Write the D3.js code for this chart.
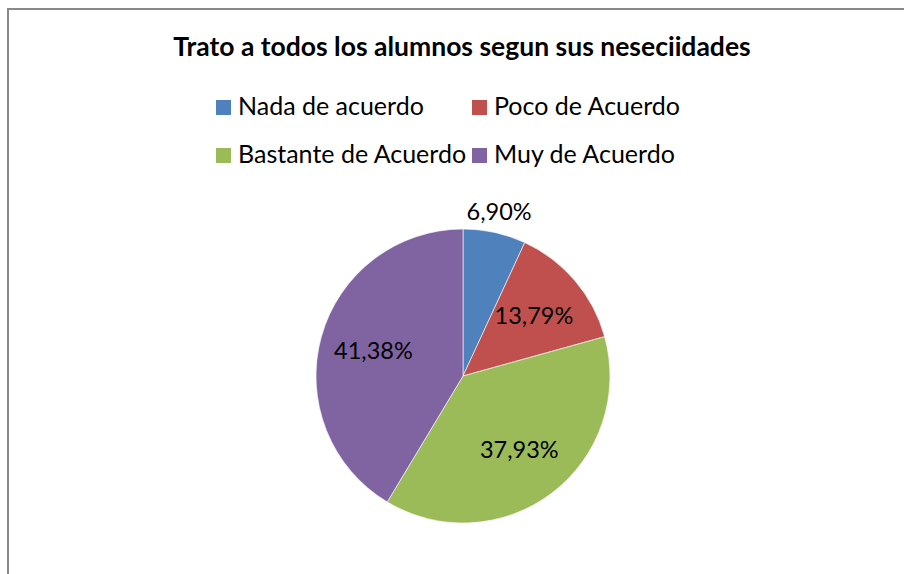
<!DOCTYPE html>
<html>
  <head>
    <meta charset="utf-8">
    <title>Trato a todos los alumnos segun sus neseciidades</title>
    <script src="https://cdn.jsdelivr.net/npm/d3@7"></script>
    <style>
        body { margin: 0; background: #fff; }
        svg { display: block; font-family: Lato, "Open Sans", sans-serif; }
    </style>
  </head>
  <body>
    <div id="viz"></div>
    <script>
        // data
        var categories = ["Nada de acuerdo", "Poco de Acuerdo", "Bastante de Acuerdo", "Muy de Acuerdo"];
        var values = [6.90, 13.79, 37.93, 41.38];
        var labels = ["6,90%", "13,79%", "37,93%", "41,38%"];
        var colors = ["#4f81bd", "#c0504d", "#9bbb59", "#8064a2"];

        var width = 904, height = 574;
        var cx = 463, cy = 376, radius = 147;

        var svg = d3.select("#viz").append("svg")
            .attr("width", width)
            .attr("height", height);

        // chart area frame (only left and top edges are in view)
        svg.append("rect")
            .attr("x", 8).attr("y", 9)
            .attr("width", 1000).attr("height", 1000)
            .style("fill", "none")
            .style("stroke", "#898989")
            .style("stroke-width", 2);

        svg.append("text")
            .attr("x", 462).attr("y", 56)
            .attr("text-anchor", "middle")
            .style("font-weight", "bold")
            .style("font-size", "26.5px")
            .text("Trato a todos los alumnos segun sus neseciidades");

        // legend, two columns
        var legend = svg.append("g").selectAll("g")
            .data(categories)
            .enter().append("g")
            .attr("transform", function(d, i) {
                return "translate(" + (216 + (i % 2) * 256) + "," + (107 + Math.floor(i / 2) * 48) + ")";
            });
        legend.append("rect")
            .attr("x", 0).attr("y", -7)
            .attr("width", 15).attr("height", 15)
            .style("fill", function(d, i) { return colors[i]; });
        legend.append("text")
            .attr("x", 22).attr("y", 8)
            .style("font-size", "25px")
            .text(function(d) { return d; });

        var pie = d3.pie().sort(null);
        var arcs = pie(values);
        var arc = d3.arc().innerRadius(0).outerRadius(radius);
        var labelArc = d3.arc().innerRadius(93).outerRadius(93);
        var outerArc = d3.arc().innerRadius(168).outerRadius(168);

        var g = svg.append("g").attr("transform", "translate(" + cx + "," + cy + ")");
        g.selectAll("path")
            .data(arcs)
            .enter().append("path")
            .attr("d", arc)
            .style("fill", function(d, i) { return colors[i]; })
            .style("stroke", "#fff")
            .style("stroke-width", 0.6);

        g.selectAll("text.lbl")
            .data(arcs)
            .enter().append("text")
            .attr("class", "lbl")
            .attr("transform", function(d, i) {
                // the small slice gets its label outside, as in the original
                var c = (d.endAngle - d.startAngle) < 0.5 ? outerArc.centroid(d) : labelArc.centroid(d);
                return "translate(" + c + ")";
            })
            .attr("text-anchor", "middle")
            .attr("dy", "0.35em")
            .style("font-size", "23.5px")
            .text(function(d, i) { return labels[i]; });
    </script>
  </body>
</html>
